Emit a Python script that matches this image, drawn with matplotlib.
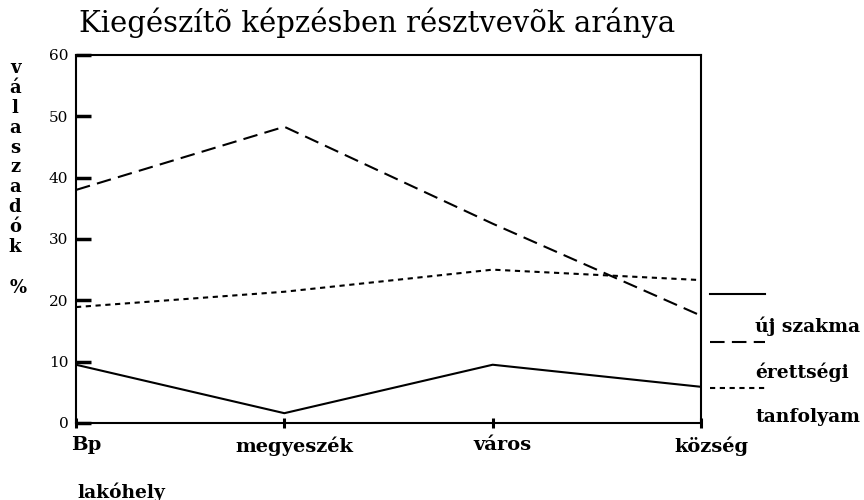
import matplotlib
matplotlib.use("Agg")
import matplotlib.pyplot as plt
from matplotlib.lines import Line2D
from matplotlib.transforms import ScaledTranslation

# ---- data ----
categories = ["Bp", "megyeszék", "város", "község"]
uj_szakma = [9.5, 1.6, 9.5, 5.9]
erettsegi = [38.0, 48.3, 32.5, 17.5]
tanfolyam = [18.9, 21.4, 25.0, 23.3]
series_labels = ["új szakma", "érettségi", "tanfolyam"]
yticks = [0, 10, 20, 30, 40, 50, 60]
title = "Kiegészítõ képzésben résztvevõk aránya"
ylabel_letters = list("válaszadók")
xlabel = "lakóhely"

serif = ["DejaVu Serif", "Liberation Serif"]
plt.rcParams["font.family"] = serif

W, H = 864, 500
fig = plt.figure(figsize=(W / 100, H / 100), dpi=100)
ax = fig.add_axes([76 / W, 1 - 423 / H, (701 - 76) / W, (423 - 55) / H])

x = list(range(len(categories)))
line_styles = ["-", (0, (7, 3.5)), (0, (2.5, 2.2))]
data = [uj_szakma, erettsegi, tanfolyam]
for vals, ls in zip(data, line_styles):
    ax.plot(x, vals, color="black", lw=1.5, linestyle=ls)

ax.set_xlim(0, 3)
ax.set_ylim(0, 60)
ax.set_xticks(x)
ax.set_xticklabels(categories, fontsize=14, fontweight="bold")
ax.set_yticks(yticks)
ax.set_yticklabels([str(v) for v in yticks], fontsize=11)
ax.set_yticks([0], minor=True)
ax.tick_params(axis="y", which="major", direction="in", length=11, width=2.5, pad=5.5)
ax.tick_params(axis="y", which="minor", direction="out", length=5, width=2.0,
               labelleft=False)
ax.tick_params(axis="x", direction="inout", length=7, width=2.2, pad=6)
for s in ax.spines.values():
    s.set_linewidth(1.5)

# shift category labels slightly to the right (as in the reference)
shift = ScaledTranslation(10 / 100, 0, fig.dpi_scale_trans)
for tick in ax.xaxis.get_major_ticks():
    tick.label1.set_transform(tick.label1.get_transform() + shift)

# title
fig.text(377 / W, 1 - 23 / H, title, ha="center", va="center", fontsize=21)

# vertical y label letters
for i, ch in enumerate(ylabel_letters):
    fig.text(15 / W, 1 - (68 + i * 19.9) / H, ch, ha="center", va="center",
             fontsize=13, fontweight="bold")
fig.text(18 / W, 1 - 288 / H, "%", ha="center", va="center", fontsize=13,
         fontweight="bold")

# x label
fig.text(77 / W, 1 - 492 / H, xlabel, ha="left", va="center", fontsize=13.4,
         fontweight="bold")

# legend (line sample above each label)
leg_line_y = [294, 342, 388]
leg_text_y = [326, 372, 417]
for ls, ly, ty, lab in zip(line_styles, leg_line_y, leg_text_y, series_labels):
    fig.add_artist(Line2D([710 / W, 765 / W], [1 - ly / H, 1 - ly / H],
                          color="black", lw=1.5, linestyle=ls))
    fig.text(755 / W, 1 - ty / H, lab, ha="left", va="center", fontsize=13.5,
             fontweight="bold")

fig.savefig("out.png", dpi=100)
